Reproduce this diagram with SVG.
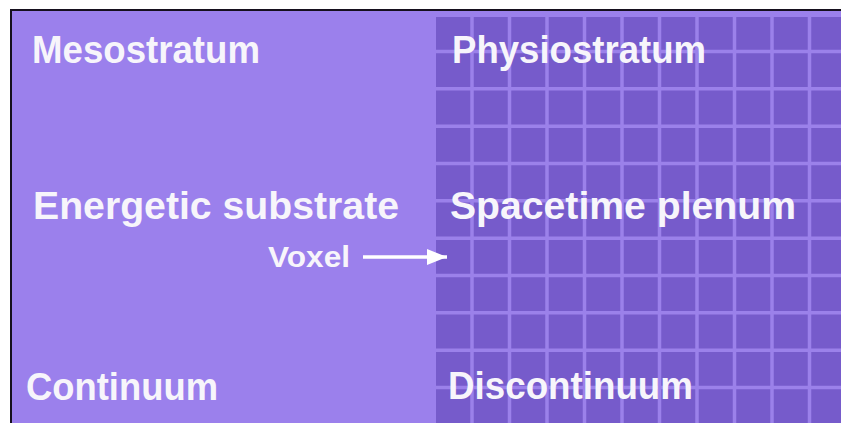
<svg xmlns="http://www.w3.org/2000/svg" width="841" height="423" viewBox="0 0 841 423">
<style>
.t{font-family:"Liberation Sans",Arial,sans-serif;font-weight:bold;fill:#f7f5fb;font-size:39px}
.g{stroke:#9b81ea;stroke-width:3.5;fill:none}
</style>
<defs>
<marker id="ah" markerWidth="20" markerHeight="16" refX="20" refY="8" orient="auto" markerUnits="userSpaceOnUse" viewBox="0 0 20 16">
<path d="M0,0 L20,8 L0,16 Z" fill="#ffffff"/>
</marker>
</defs>
<rect x="0" y="0" width="841" height="423" fill="#ffffff"/>
<rect x="11" y="10" width="840" height="420" fill="#9b80ec" stroke="#16101e" stroke-width="2"/>
<g id="grid">
<rect x="436" y="17" width="405" height="406" fill="#765bcb"/>
<path class="g" d="M472,11V423M509.5,11V423M547,11V423M584.5,11V423M622,11V423M659.5,11V423M697,11V423M734.5,11V423M772,11V423M809.5,11V423M436,51.5H841M436,88.8H841M436,126.2H841M436,163.5H841M436,200.8H841M436,238.2H841M436,275.5H841M436,312.8H841M436,350.2H841M436,387.5H841"/>
</g>
<g id="mesostratum"><text class="t" x="32" y="63" textLength="228" lengthAdjust="spacingAndGlyphs">Mesostratum</text></g>
<g id="physiostratum"><text class="t" x="452" y="63" textLength="254" lengthAdjust="spacingAndGlyphs">Physiostratum</text></g>
<g id="energetic"><text class="t" x="33" y="219" textLength="366" lengthAdjust="spacingAndGlyphs">Energetic substrate</text></g>
<g id="spacetime"><text class="t" x="450" y="219" textLength="346" lengthAdjust="spacingAndGlyphs">Spacetime plenum</text></g>
<g id="continuum"><text class="t" x="26" y="400" textLength="192" lengthAdjust="spacingAndGlyphs">Continuum</text></g>
<g id="discontinuum"><text class="t" x="448" y="399" textLength="245" lengthAdjust="spacingAndGlyphs">Discontinuum</text></g>
<g id="voxel"><text class="t" x="268" y="267" textLength="82" lengthAdjust="spacingAndGlyphs" style="font-size:29px">Voxel</text></g>
<g id="connectors">
<line x1="363" y1="257" x2="447" y2="257" stroke="#ffffff" stroke-width="3.5" marker-end="url(#ah)"/>
</g>
</svg>
